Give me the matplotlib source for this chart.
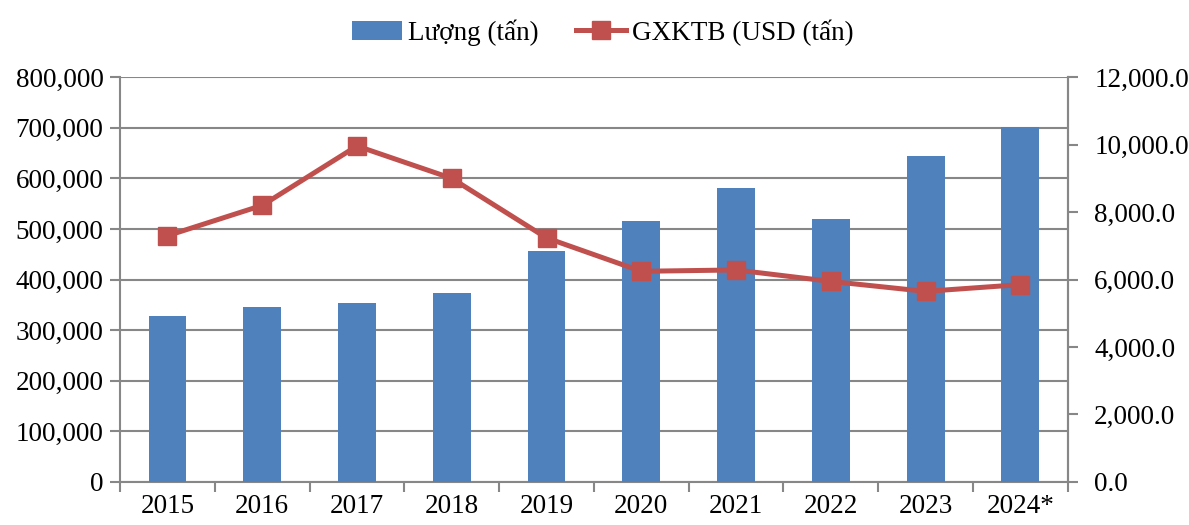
import numpy as np
import matplotlib
matplotlib.use("Agg")
import matplotlib.pyplot as plt
from matplotlib.ticker import FuncFormatter

# data
years = ["2015", "2016", "2017", "2018", "2019", "2020", "2021", "2022", "2023", "2024*"]
luong = [328000, 346000, 353500, 373000, 456000, 515000, 580000, 520000, 645000, 701000]
gia = [7300, 8200, 9960, 9000, 7235, 6245, 6285, 5945, 5650, 5850]

plt.rcParams['font.family'] = ['Liberation Serif', 'DejaVu Serif']
plt.rcParams['font.size'] = 19.5

grey = "#878787"
blue = "#4F81BD"
red = "#C0504D"

fig = plt.figure(figsize=(11.89, 5.25), dpi=100)
ax = fig.add_axes([0.101, 0.082, 0.797, 0.771])
x = np.arange(len(years))

bars = ax.bar(x, luong, width=0.4, color=blue, zorder=3, label="Lượng (tấn)")
ax.set_ylim(0, 800000)
ax.set_yticks(np.arange(0, 800001, 100000))
ax.yaxis.set_major_formatter(FuncFormatter(lambda v, p: f"{int(v):,}"))
ax.grid(axis="y", color=grey, linewidth=1.5, zorder=0)
ax.set_axisbelow(True)

# category boundaries as ticks, labels in the middle
ax.set_xlim(-0.5, len(years) - 0.5)
ax.set_xticks(np.arange(-0.5, len(years)), minor=False)
ax.set_xticklabels([])
ax.set_xticks(x, minor=True)
ax.set_xticklabels(years, minor=True)
ax.tick_params(axis="x", which="major", length=7, width=1.5, color=grey)
ax.tick_params(axis="x", which="minor", length=0, pad=9)
ax.tick_params(axis="y", length=7, width=1.5, color=grey, pad=5)

ax.spines["top"].set_visible(False)
for s in ["left", "bottom", "right"]:
    ax.spines[s].set_color(grey)
    ax.spines[s].set_linewidth(1.5)

ax2 = ax.twinx()
line, = ax2.plot(x, gia, color=red, linewidth=3.6, marker="s", markersize=13,
                 zorder=4, label="GXKTB (USD (tấn)")
ax2.set_ylim(0, 12000)
ax2.set_yticks(np.arange(0, 12001, 2000))
ax2.yaxis.set_major_formatter(FuncFormatter(lambda v, p: f"{v:,.1f}"))
ax2.tick_params(axis="y", length=7, width=1.5, color=grey, pad=12)
ax2.spines["top"].set_visible(False)
ax2.spines["left"].set_visible(False)
ax2.spines["bottom"].set_visible(False)
ax2.spines["right"].set_color(grey)
ax2.spines["right"].set_linewidth(1.5)

fig.legend([bars, line], ["Lượng (tấn)", "GXKTB (USD (tấn)"], loc="upper center",
           bbox_to_anchor=(0.507, 1.01), ncol=2, frameon=False, fontsize=19.5,
           handlelength=1.85, columnspacing=1.4, handletextpad=0.2)

fig.savefig("out.png", dpi=100)
